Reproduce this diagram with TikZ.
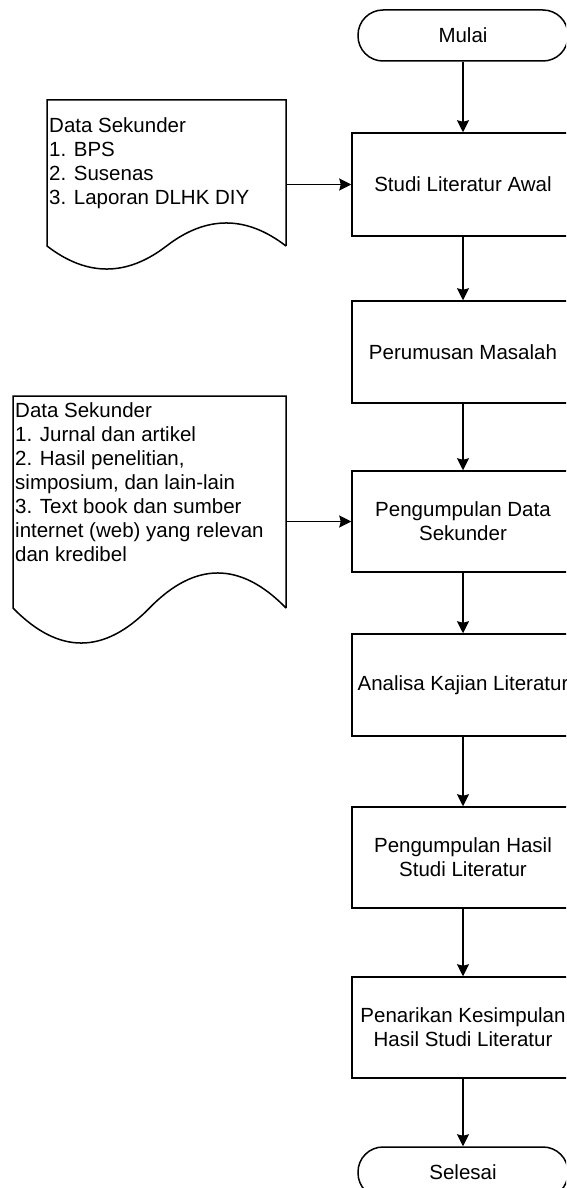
\documentclass[tikz,border=0pt]{standalone}
\usepackage{fontspec}
\setmainfont{Liberation Sans}
\usetikzlibrary{arrows.meta}
\tikzset{
  every node/.style={font=\fontsize{20.5}{24}\selectfont},
  shapeline/.style={draw=black, line width=1.5pt},
  proc/.style={shapeline, rectangle, minimum width=222pt, minimum height=102pt, inner sep=0pt, align=center},
  term/.style={shapeline, rectangle, rounded corners=25pt, minimum width=210pt, minimum height=51pt, inner sep=0pt},
  doctext/.style={anchor=north west, inner sep=0pt, align=left},
  arr/.style={draw=black, line width=1.5pt, -{Stealth[length=12pt, width=12pt, inset=1.5pt]}}
}
\begin{document}
\begin{tikzpicture}[x=1pt, y=-1pt]
\useasboundingbox (0,0) rectangle (566,1188);
\fill[white] (0,0) rectangle (566,1188);
\clip (0,0) rectangle (566,1188);

% main column
\node[term] (mulai) at (463,35.5) {Mulai};
\node[proc, minimum height=103pt] (studi) at (463,184.5) {Studi Literatur Awal};
\node[proc] (rumus) at (463,352) {Perumusan Masalah};
\node[proc, minimum height=101pt] (kumpul) at (463,521.5) {Pengumpulan Data\\Sekunder};
\node[proc] (analisa) at (463,685) {Analisa Kajian Literatur};
\node[proc, minimum height=101pt] (hasil) at (463,857.5) {Pengumpulan Hasil\\Studi Literatur};
\node[proc, minimum height=101pt] (tarik) at (463,1027.5) {Penarikan Kesimpulan\\Hasil Studi Literatur};
\node[term] (selesai) at (463,1172.5) {Selesai};

% document 1
\draw[shapeline] (286,246) -- (286,100) -- (47,100) -- (47,246)
  .. controls (86.8,276.7) and (126.7,276.7) .. (166.5,246)
  .. controls (206.3,215.3) and (246.2,215.3) .. (286,246);
\node[doctext] (doc1) at (49,117) {Data Sekunder\\1. BPS\\2. Susenas\\3. Laporan DLHK DIY};
\coordinate (d1out) at (286,184.5);

% document 2
\draw[shapeline] (286,608) -- (286,396) -- (13,396) -- (13,608)
  .. controls (58.5,654.7) and (104,654.7) .. (149.5,608)
  .. controls (195,561.3) and (240.5,561.3) .. (286,608);
\node[doctext] (doc2) at (15,402) {Data Sekunder\\1. Jurnal dan artikel\\2. Hasil penelitian,\\simposium, dan lain-lain\\3. Text book dan sumber\\internet (web) yang relevan\\dan kredibel};
\coordinate (d2out) at (286,521.5);

% connectors
\draw[arr] (mulai) -- (studi);
\draw[arr] (studi) -- (rumus);
\draw[arr] (rumus) -- (kumpul);
\draw[arr] (kumpul) -- (analisa);
\draw[arr] (analisa) -- (hasil);
\draw[arr] (hasil) -- (tarik);
\draw[arr] (tarik) -- (selesai);
\draw[arr] (d1out) -- (studi);
\draw[arr] (d2out) -- (kumpul);
\end{tikzpicture}
\end{document}
